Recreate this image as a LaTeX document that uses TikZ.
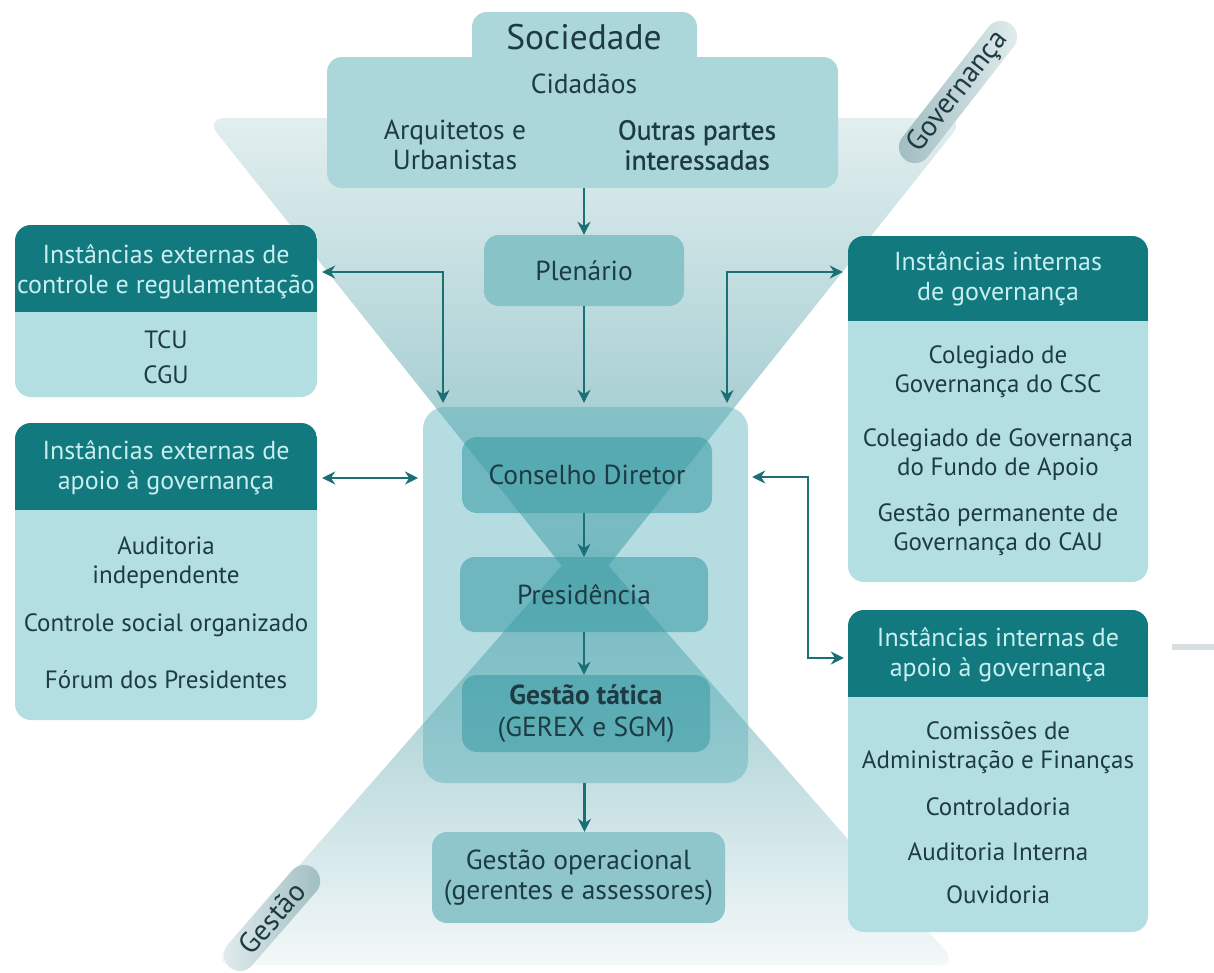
\documentclass[tikz,border=0pt]{standalone}
\usepackage{fontspec}
\setmainfont{PT Sans}
\usetikzlibrary{arrows.meta}
\definecolor{txtc}{HTML}{1E3B43}
\definecolor{hdrtc}{HTML}{C8EEF0}
\definecolor{hdrc}{HTML}{127A7F}
\definecolor{bodyc}{HTML}{B3DFE3}
\definecolor{arrc}{HTML}{1B7075}
\definecolor{socc}{HTML}{ABD6DA}
\definecolor{plenc}{HTML}{88C3C8}
\definecolor{gopc}{HTML}{8FC6CB}
\definecolor{framec}{HTML}{5BB1BA}
\definecolor{boxc}{HTML}{3A9CA5}
\definecolor{fTop}{HTML}{E2EEEF}
\definecolor{fBot}{HTML}{84BDC2}
\definecolor{lTop}{HTML}{84BDC2}
\definecolor{lBot}{HTML}{F4F8F9}
\definecolor{pillD}{HTML}{9DBBBF}
\definecolor{pillL}{HTML}{E4EEEF}
\definecolor{grayln}{HTML}{D8DDE0}
\tikzset{
  bx/.style={rectangle, inner sep=0pt, rounded corners=15pt},
  txt/.style={text=txtc, font=\fontsize{27.5}{30}\selectfont, align=center, inner sep=0pt},
  hdrtxt/.style={text=hdrtc, font=\fontsize{26}{30}\selectfont, align=center, inner sep=0pt},
  bodytxt/.style={text=txtc, font=\fontsize{25}{29}\selectfont, align=center, inner sep=0pt},
  sidebox/.style={bx, fill=bodyc, rounded corners=16pt},
  trbox/.style={bx, fill=boxc, fill opacity=0.58, text opacity=1, text=txtc, font=\fontsize{27.5}{32}\selectfont, align=center},
  arr/.style={draw=arrc, line width=2.5pt, -{Stealth[length=13pt,width=13pt]}},
  darr/.style={draw=arrc, line width=2.5pt, {Stealth[length=13pt,width=13pt]}-{Stealth[length=13pt,width=13pt]}},
  pill/.style={rectangle, rounded corners=16pt, minimum height=32pt, inner sep=0pt, text=txtc, font=\fontsize{29}{29}\selectfont},
}
\begin{document}
\begin{tikzpicture}[x=1pt,y=-1pt]
\useasboundingbox (0,0) rectangle (1214,972);
% funnels
\shade[top color=fTop, bottom color=fBot, rounded corners=20pt] (205,118) -- (965,118) -- (585,595) -- cycle;
\shade[top color=lTop, bottom color=lBot, rounded corners=20pt] (585,539) -- (958,965) -- (212,965) -- cycle;
% pills
\node[pill, rotate=52, minimum width=172pt, left color=pillD, right color=pillL] (gov) at (958,92) {Governança};
\node[pill, rotate=49, minimum width=130pt, left color=pillL, right color=pillD] (ges) at (272,918) {Gestão};
% gray line
\draw[grayln, line width=6pt] (1172,647) -- (1214,647);
% Sociedade
\node[bx, fill=socc, minimum width=225pt, minimum height=58pt] (soctab) at (584.5,41) {};
\node[bx, fill=socc, minimum width=511pt, minimum height=131pt] (soc) at (582.5,122.5) {};
\node[txt, font=\fontsize{35.5}{38}\selectfont] (soct) at (584,37) {Sociedade};
\node[txt] (cid) at (584,84) {Cidadãos};
\node[txt] (arq) at (455,145) {Arquitetos e\\Urbanistas};
\node[txt, font=\fontsize{27.5}{30}\selectfont\addfontfeatures{FakeBold=1}] (out) at (697,145) {Outras partes\\interessadas};
% Plenario
\node[bx, fill=plenc, minimum width=200pt, minimum height=71pt, txt] (plen) at (584,270.5) {Plenário};
% central frame
\node[bx, fill=framec, fill opacity=0.45, rounded corners=22pt, minimum width=325pt, minimum height=376pt] (frame) at (585.5,595) {};
\node[trbox, minimum width=250pt, minimum height=76pt] (cons) at (587,475) {Conselho Diretor};
\node[trbox, minimum width=248pt, minimum height=75pt] (pres) at (584,594.5) {Presidência};
\node[trbox, minimum width=248pt, minimum height=77pt] (gt) at (586,713.5) {\textbf{Gestão tática}\\(GEREX e SGM)};
\node[bx, fill=gopc, minimum width=293pt, minimum height=91pt, txt] (gop) at (578.5,877.5) {Gestão operacional\\(gerentes e assessores)};
% side boxes
\node[sidebox, minimum width=302pt, minimum height=172pt] (ec) at (166,311) {};
\begin{scope}
\clip[rounded corners=16pt] (15,225) rectangle (317,397);
\fill[hdrc] (15,225) rectangle (317,312);
\end{scope}
\node[hdrtxt] (echd) at (166,272) {Instâncias externas de\\controle e regulamentação};
\node[bodytxt, font=\fontsize{25}{35}\selectfont] (ecbd) at (166,357) {TCU\\CGU};

\node[sidebox, minimum width=302pt, minimum height=297pt] (ea) at (166,571.5) {};
\begin{scope}
\clip[rounded corners=16pt] (15,423) rectangle (317,720);
\fill[hdrc] (15,423) rectangle (317,510);
\end{scope}
\node[hdrtxt] (eahd) at (166,468) {Instâncias externas de\\apoio à governança};
\node[bodytxt] (eab1) at (166,562.5) {Auditoria\\independente};
\node[bodytxt] (eab2) at (166,625) {Controle social organizado};
\node[bodytxt] (eab3) at (166,680) {Fórum dos Presidentes};

\node[sidebox, minimum width=300pt, minimum height=346pt] (ig) at (998,409) {};
\begin{scope}
\clip[rounded corners=16pt] (848,236) rectangle (1148,582);
\fill[hdrc] (848,236) rectangle (1148,321);
\end{scope}
\node[hdrtxt] (ighd) at (998,279) {Instâncias internas\\de governança};
\node[bodytxt] (igb1) at (998,372) {Colegiado de\\Governança do CSC};
\node[bodytxt] (igb2) at (998,455) {Colegiado de Governança\\do Fundo de Apoio};
\node[bodytxt] (igb3) at (998,530) {Gestão permanente de\\Governança do CAU};

\node[sidebox, minimum width=300pt, minimum height=322pt] (ia) at (998,771) {};
\begin{scope}
\clip[rounded corners=16pt] (848,610) rectangle (1148,932);
\fill[hdrc] (848,610) rectangle (1148,697);
\end{scope}
\node[hdrtxt] (iahd) at (998,655) {Instâncias internas de\\apoio à governança};
\node[bodytxt] (iab1) at (998,748) {Comissões de\\Administração e Finanças};
\node[bodytxt] (iab2) at (998,807) {Controladoria};
\node[bodytxt] (iab3) at (998,852) {Auditoria Interna};
\node[bodytxt] (iab4) at (998,895) {Ouvidoria};
% connectors
\coordinate (cL) at (443,403);
\coordinate (cR) at (727,403);
\coordinate (m2) at (418,478);
\coordinate (r1) at (808,477);
\coordinate (r2) at (808,658);
\draw[arr] (plen.north |- soc.south) -- (plen.north);
\draw[arr, shorten >=4pt] (plen.south) -- (plen.south |- frame.north);
\draw[darr, shorten <=5pt] (ec.east |- echd) -| (cL);
\draw[darr, shorten >=5pt] (cR) |- (ig.west |- echd);
\draw[darr, shorten <=5pt] (ea.east |- m2) -- (m2);
\draw[darr, shorten <=4pt, shorten >=4pt] (frame.east |- r1) -- (r1) -- (r2) -- (ia.west |- r2);
\draw[arr] (pres.north |- cons.south) -- (pres.north);
\draw[arr] (pres.south) -- (pres.south |- gt.north);
\draw[arr] (frame.south -| gop.north) ++(6,0) coordinate (fs) -- (fs |- gop.north);
\end{tikzpicture}
\end{document}
